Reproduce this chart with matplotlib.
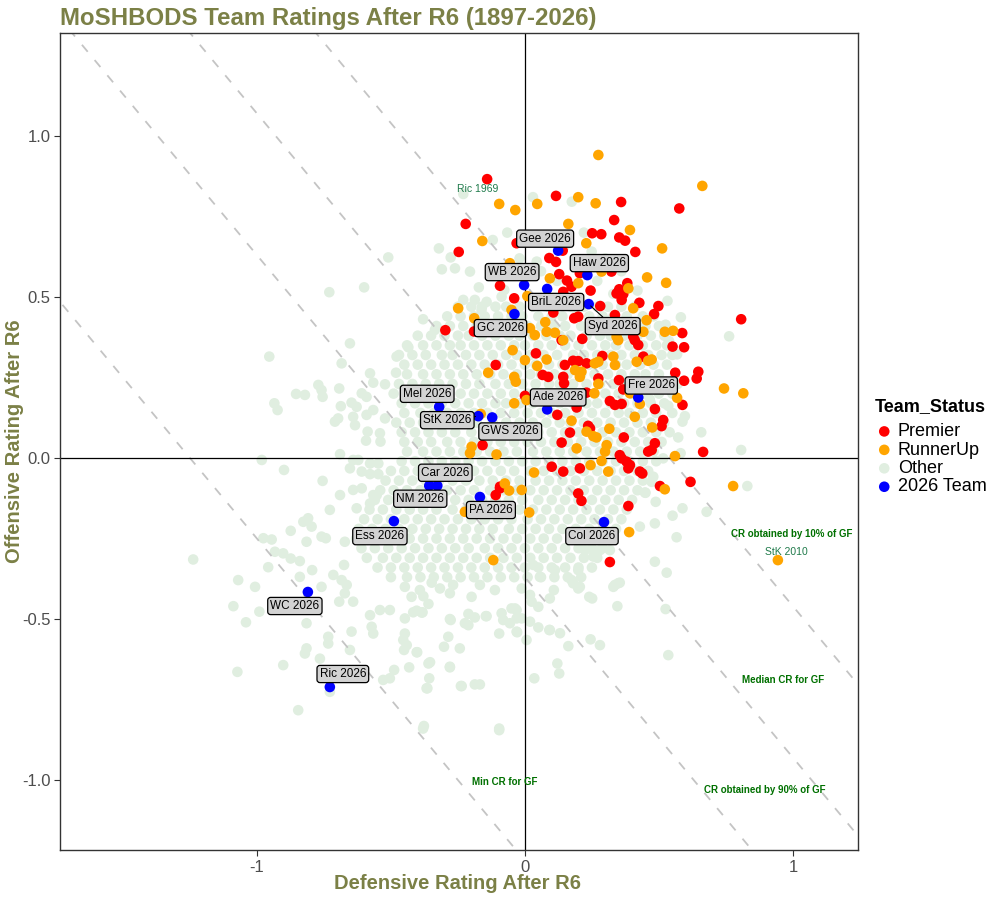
import matplotlib.pyplot as plt

plt.rcParams['font.family'] = ['Liberation Sans', 'DejaVu Sans']

# ---- 2026 teams (blue) ----
team_names = ['Gee 2026', 'WB 2026', 'Haw 2026', 'BriL 2026', 'Syd 2026', 'GC 2026',
              'Fre 2026', 'Ade 2026', 'Mel 2026', 'StK 2026', 'GWS 2026', 'Car 2026',
              'NM 2026', 'PA 2026', 'Ess 2026', 'Col 2026', 'WC 2026', 'Ric 2026']
team_def = [0.124, -0.003, 0.233, 0.083, 0.238, -0.039, 0.423, 0.083, -0.320, -0.174,
            -0.122, -0.327, -0.357, -0.168, -0.489, 0.295, -0.810, -0.728]
team_off = [0.644, 0.537, 0.568, 0.525, 0.478, 0.447, 0.188, 0.151, 0.159, 0.130,
            0.126, -0.086, -0.086, -0.121, -0.196, -0.199, -0.416, -0.711]
# label offsets in pixels (dx, dy) as placed by the label repeller
label_shift = [(-13, 12), (-12, 13), (12, 12), (9, -13), (24, -22), (-14, -14),
               (13, 12), (11, 12), (-12, 13), (-31, -4), (18, -14), (8, 13),
               (-9, -13), (11, -13), (-14, -15), (-12, -14), (-13, -14), (13, 13)]

# ---- Premiers (red) ----
prem_def = [-0.141, 0.116, 0.359, 0.576, -0.221, 0.333, 0.251, 0.285, 0.352, 0.374,
            0.412, -0.247, -0.031, 0.141, 0.091, 0.116, 0.128, 0.157, 0.174, 0.143,
            0.205, 0.245, 0.323, 0.352, 0.367, 0.342, 0.361, 0.382, 0.427, 0.498,
            0.482, 0.281, -0.093, -0.040, 0.106, 0.184, 0.199, 0.336, -0.297, -0.190,
            0.587, 0.404, -0.109, 0.041, 0.137, 0.214, 0.149, 0.180, 0.199, 0.230,
            0.289, 0.410, 0.423, 0.551, 0.594, 0.442, 0.066, 0.087, 0.143, 0.146,
            0.274, 0.351, 0.561, 0.647, 0.641, 0.594, 0.367, 0.000, 0.230, 0.317,
            0.336, 0.361, 0.193, 0.485, 0.588, 0.121, 0.516, 0.510, 0.236, 0.243,
            0.168, 0.369, 0.137, -0.158, 0.485, 0.473, 0.460, 0.665, 0.354, 0.361,
            0.379, 0.392, 0.386, 0.205, 0.100, 0.143, 0.429, 0.618, 0.504, -0.093,
            0.807, 0.438, -0.093, -0.109, 0.199, 0.211, 0.386, 0.317]
prem_off = [0.866, 0.814, 0.795, 0.775, 0.727, 0.739, 0.698, 0.695, 0.685, 0.675,
            0.640, 0.640, 0.667, 0.644, 0.621, 0.609, 0.571, 0.551, 0.532, 0.516,
            0.574, 0.520, 0.579, 0.524, 0.509, 0.511, 0.491, 0.543, 0.482, 0.472,
            0.447, 0.472, 0.535, 0.496, 0.452, 0.434, 0.439, 0.444, 0.397, 0.393,
            0.388, 0.377, 0.289, 0.325, 0.366, 0.370, 0.289, 0.302, 0.301, 0.294,
            0.317, 0.366, 0.351, 0.346, 0.344, 0.315, 0.258, 0.252, 0.252, 0.232,
            0.247, 0.242, 0.265, 0.268, 0.247, 0.240, 0.213, 0.193, 0.203, 0.177,
            0.165, 0.168, 0.157, 0.152, 0.165, 0.134, 0.118, 0.099, 0.100, 0.092,
            0.079, 0.064, 0.048, 0.040, 0.046, 0.025, 0.020, 0.019, 0.009, -0.001,
            -0.011, -0.022, -0.032, -0.032, -0.027, -0.042, -0.042, -0.074, -0.087, -0.089,
            0.431, -0.048, -0.094, -0.115, -0.110, -0.133, -0.149, -0.323]

# ---- Runners-up (orange) ----
ru_def = [0.274, 0.662, -0.096, -0.036, 0.046, 0.199, 0.264, 0.162, 0.392, -0.159,
          0.229, 0.512, -0.056, 0.093, 0.199, 0.286, 0.456, 0.527, 0.386, 0.009,
          -0.249, 0.404, -0.189, -0.050, 0.076, 0.454, 0.019, 0.081, 0.112, 0.522,
          0.553, 0.037, 0.442, -0.046, 0.000, 0.081, 0.046, 0.143, 0.187, 0.211,
          0.205, 0.261, 0.274, 0.330, 0.336, 0.417, 0.460, 0.473, 0.342, 0.348,
          -0.137, -0.040, -0.034, 0.274, 0.259, 0.743, 0.815, 0.392, 0.568, 0.429,
          -0.040, 0.006, 0.174, 0.410, 0.475, 0.315, 0.230, 0.255, 0.267, 0.305,
          0.299, 0.193, -0.199, -0.205, -0.106, -0.165, 0.560, 0.286, 0.245, 0.311,
          0.034, -0.075, 0.777, -0.059, -0.012, -0.224, 0.016, 0.522, 0.389, -0.118,
          0.944]
ru_off = [0.941, 0.845, 0.789, 0.770, 0.789, 0.810, 0.791, 0.727, 0.708, 0.674,
          0.667, 0.651, 0.605, 0.558, 0.543, 0.579, 0.561, 0.544, 0.527, 0.503,
          0.465, 0.465, 0.434, 0.460, 0.422, 0.428, 0.403, 0.392, 0.389, 0.392,
          0.395, 0.382, 0.392, 0.335, 0.304, 0.306, 0.286, 0.366, 0.273, 0.268,
          0.252, 0.294, 0.299, 0.315, 0.289, 0.299, 0.302, 0.306, 0.377, 0.366,
          0.265, 0.252, 0.237, 0.230, 0.201, 0.216, 0.201, 0.201, 0.187, 0.168,
          0.170, 0.180, 0.116, 0.128, 0.095, 0.091, 0.082, 0.068, 0.064, 0.040,
          0.020, 0.030, 0.035, 0.015, 0.011, 0.137, 0.006, -0.009, -0.022, -0.042,
          -0.045, -0.079, -0.087, -0.101, -0.099, -0.167, -0.169, -0.097, -0.230, -0.317,
          -0.317]

# ---- Other teams (light green): dense core read row by row ----
other_row_y = [0.47, 0.44, 0.41, 0.38, 0.35, 0.32, 0.29, 0.26, 0.23, 0.20,
               0.17, 0.14, 0.11, 0.08, 0.05, 0.02, -0.01, -0.04, -0.07, -0.10,
               -0.13, -0.16, -0.19, -0.22, -0.25, -0.28, -0.31, -0.34, -0.37]
other_row_x = [
    [-0.25, -0.20, -0.16, -0.11, -0.07, -0.02, 0.03, 0.08, 0.12, 0.17, 0.22, 0.27, 0.31, 0.36, 0.41],
    [-0.29, -0.24, -0.19, -0.15, -0.10, -0.05, -0.01, 0.05, 0.10, 0.14, 0.19, 0.24, 0.29, 0.33, 0.38, 0.44, 0.48],
    [-0.33, -0.28, -0.23, -0.18, -0.13, -0.09, -0.04, 0.01, 0.06, 0.11, 0.15, 0.21, 0.26, 0.30, 0.35, 0.40, 0.45, 0.50],
    [-0.40, -0.35, -0.30, -0.25, -0.21, -0.16, -0.11, -0.06, -0.02, 0.03, 0.08, 0.13, 0.17, 0.23, 0.28, 0.32, 0.37, 0.42, 0.47, 0.52],
    [-0.44, -0.38, -0.33, -0.28, -0.24, -0.19, -0.14, -0.09, -0.04, 0.00, 0.05, 0.10, 0.15, 0.20, 0.25, 0.30, 0.34, 0.39, 0.44, 0.49, 0.53],
    [-0.47, -0.42, -0.37, -0.31, -0.27, -0.22, -0.17, -0.12, -0.07, -0.03, 0.02, 0.07, 0.12, 0.18, 0.22, 0.27, 0.32, 0.36, 0.41, 0.46, 0.51, 0.55],
    [-0.45, -0.40, -0.35, -0.30, -0.25, -0.20, -0.15, -0.10, -0.05, 0.00, 0.04, 0.09, 0.14, 0.19, 0.24, 0.29, 0.34, 0.38, 0.43, 0.48, 0.53],
    [-0.44, -0.38, -0.33, -0.28, -0.23, -0.18, -0.13, -0.08, -0.03, 0.02, 0.06, 0.11, 0.16, 0.21, 0.26, 0.31, 0.36, 0.41, 0.45, 0.50, 0.56],
    [-0.47, -0.42, -0.37, -0.32, -0.27, -0.22, -0.17, -0.11, -0.06, -0.01, 0.04, 0.09, 0.13, 0.18, 0.23, 0.28, 0.33, 0.38, 0.43, 0.48, 0.52, 0.57],
    [-0.49, -0.44, -0.39, -0.34, -0.29, -0.24, -0.19, -0.14, -0.09, -0.04, 0.01, 0.06, 0.11, 0.16, 0.21, 0.26, 0.30, 0.35, 0.40, 0.45, 0.50, 0.55],
    [-0.46, -0.41, -0.36, -0.31, -0.26, -0.21, -0.16, -0.11, -0.07, -0.02, 0.03, 0.08, 0.13, 0.18, 0.23, 0.27, 0.32, 0.37, 0.42, 0.47, 0.52],
    [-0.45, -0.39, -0.34, -0.29, -0.24, -0.19, -0.14, -0.09, -0.04, 0.01, 0.06, 0.10, 0.15, 0.20, 0.25, 0.30, 0.35, 0.39, 0.44, 0.49, 0.55],
    [-0.48, -0.43, -0.38, -0.33, -0.28, -0.23, -0.18, -0.12, -0.07, -0.02, 0.03, 0.08, 0.13, 0.17, 0.22, 0.27, 0.32, 0.37, 0.42, 0.47, 0.52],
    [-0.46, -0.41, -0.36, -0.31, -0.26, -0.20, -0.15, -0.10, -0.05, 0.00, 0.05, 0.10, 0.15, 0.20, 0.24, 0.29, 0.34, 0.39, 0.44, 0.49, 0.54],
    [-0.45, -0.40, -0.35, -0.29, -0.24, -0.19, -0.14, -0.09, -0.04, 0.01, 0.06, 0.11, 0.16, 0.21, 0.26, 0.31, 0.36, 0.41, 0.46, 0.51],
    [-0.44, -0.38, -0.33, -0.28, -0.23, -0.18, -0.13, -0.08, -0.03, 0.03, 0.08, 0.13, 0.18, 0.23, 0.28, 0.33, 0.38, 0.43, 0.48],
    [-0.46, -0.41, -0.36, -0.31, -0.26, -0.21, -0.16, -0.11, -0.06, -0.01, 0.04, 0.09, 0.14, 0.19, 0.24, 0.29, 0.34, 0.39, 0.44, 0.49],
    [-0.50, -0.45, -0.40, -0.34, -0.29, -0.24, -0.19, -0.14, -0.09, -0.04, 0.02, 0.07, 0.12, 0.17, 0.22, 0.27, 0.32, 0.37, 0.42, 0.46],
    [-0.52, -0.47, -0.42, -0.37, -0.32, -0.27, -0.22, -0.17, -0.12, -0.07, -0.02, 0.04, 0.09, 0.14, 0.19, 0.24, 0.29, 0.34, 0.39, 0.44],
    [-0.54, -0.49, -0.44, -0.39, -0.34, -0.29, -0.24, -0.19, -0.13, -0.08, -0.03, 0.02, 0.07, 0.12, 0.17, 0.22, 0.27, 0.32, 0.37, 0.42],
    [-0.56, -0.51, -0.46, -0.41, -0.36, -0.31, -0.26, -0.21, -0.16, -0.11, -0.06, -0.01, 0.05, 0.10, 0.15, 0.20, 0.25, 0.30, 0.35, 0.40],
    [-0.58, -0.53, -0.48, -0.43, -0.38, -0.33, -0.27, -0.22, -0.17, -0.12, -0.07, -0.02, 0.03, 0.08, 0.13, 0.18, 0.23, 0.28, 0.33, 0.38],
    [-0.60, -0.55, -0.50, -0.45, -0.40, -0.35, -0.30, -0.25, -0.20, -0.15, -0.10, -0.05, 0.01, 0.06, 0.11, 0.16, 0.21, 0.26, 0.31, 0.36],
    [-0.62, -0.57, -0.52, -0.47, -0.42, -0.37, -0.32, -0.27, -0.22, -0.17, -0.12, -0.06, -0.01, 0.04, 0.09, 0.14, 0.19, 0.24, 0.29, 0.34],
    [-0.63, -0.58, -0.53, -0.48, -0.43, -0.38, -0.33, -0.28, -0.23, -0.18, -0.13, -0.08, -0.03, 0.02, 0.07, 0.12, 0.17, 0.22, 0.27, 0.31],
    [-0.61, -0.56, -0.51, -0.46, -0.41, -0.36, -0.31, -0.26, -0.21, -0.15, -0.10, -0.05, 0.00, 0.05, 0.10, 0.15, 0.20, 0.25, 0.29],
    [-0.59, -0.53, -0.48, -0.43, -0.38, -0.33, -0.28, -0.23, -0.18, -0.13, -0.08, -0.03, 0.02, 0.07, 0.12, 0.17, 0.22, 0.27],
    [-0.55, -0.50, -0.45, -0.40, -0.35, -0.30, -0.25, -0.20, -0.15, -0.10, -0.05, 0.00, 0.05, 0.10, 0.15, 0.20, 0.25],
    [-0.50, -0.44, -0.39, -0.34, -0.29, -0.24, -0.19, -0.14, -0.09, -0.04, 0.01, 0.06, 0.11, 0.16, 0.21],
]

# ---- Other teams: scattered points outside the core ----
other_sparse = [
    (-0.23, 0.82), (0.03, 0.81), (0.175, 0.796), (-0.066, 0.70), (-0.12, 0.677),
    (-0.321, 0.651), (-0.277, 0.623), (-0.310, 0.586), (-0.261, 0.589), (-0.205, 0.579),
    (-0.172, 0.530), (-0.23, 0.491), (-0.187, 0.491), (-0.143, 0.485), (-0.162, 0.46),
    (-0.087, 0.501), (-0.077, 0.522), (0.044, 0.61), (0.249, 0.641), (-0.51, 0.623),
    (-0.60, 0.53), (-0.73, 0.515), (-0.38, 0.431), (-0.336, 0.398), (-0.653, 0.356),
    (-0.954, 0.315), (-0.435, 0.344), (-0.479, 0.315), (-0.684, 0.294), (-0.578, 0.263),
    (-0.481, 0.265), (-0.566, 0.234), (-0.522, 0.229), (-0.771, 0.227), (-0.759, 0.211),
    (-0.693, 0.216), (-0.854, 0.199), (-0.821, 0.196), (-0.755, 0.19), (-0.609, 0.201),
    (-0.591, 0.19), (-0.935, 0.17), (-0.923, 0.149), (-0.647, 0.172), (-0.628, 0.159),
    (-0.687, 0.161), (-0.566, 0.149), (-0.591, 0.134), (-0.522, 0.123), (-0.697, 0.123),
    (-0.709, 0.113), (-0.641, 0.128), (-0.634, 0.102), (-0.587, 0.082), (-0.541, 0.077),
    (-0.539, 0.051), (-0.593, 0.054), (-0.69, 0.012), (-0.982, -0.006), (-0.899, -0.037),
    (-0.755, -0.071), (-0.641, -0.006), (-0.622, -0.006), (-0.653, -0.032), (-0.609, -0.042),
    (-0.578, -0.017), (-0.547, -0.017), (-0.578, -0.05), (-0.547, -0.05), (-0.69, -0.115),
    (-0.641, -0.099), (-0.609, -0.094), (-0.566, -0.115),
    (0.0, 0.56), (0.06, 0.58), (0.12, 0.55), (0.20, 0.60), (0.30, 0.62), (0.36, 0.58),
    (0.42, 0.52), (0.15, 0.66), (0.22, 0.70), (-0.02, 0.62), (0.33, 0.51), (0.27, 0.55),
    (0.532, 0.488), (0.582, 0.437), (0.525, 0.414), (0.762, 0.378), (0.538, 0.363),
    (0.568, 0.322), (0.466, 0.182), (0.535, 0.162), (0.597, 0.13), (0.588, 0.113),
    (0.658, 0.08), (0.572, 0.064), (0.807, 0.025), (0.581, 0.015), (0.516, -0.001),
    (0.479, -0.058), (0.473, -0.074), (0.83, -0.087), (0.448, -0.107), (0.678, -0.167),
    (0.588, -0.156), (0.551, -0.179), (0.566, -0.246), (0.485, -0.203), (0.485, -0.322),
    (0.529, -0.356), (0.45, -0.108), (0.488, -0.136), (0.429, -0.213), (0.336, -0.394),
    (0.348, -0.389), (0.345, -0.46), (0.525, -0.469), (0.535, -0.612), (0.245, -0.563),
    (0.28, -0.581), (0.162, -0.584), (0.121, -0.638), (0.128, -0.669), (0.035, -0.684),
    (0.24, -0.431), (0.093, -0.534), (0.131, -0.544), (-0.031, -0.472), (0.056, -0.369),
    (0.031, -0.332), (0.174, -0.379), (0.199, -0.348), (0.112, -0.348), (0.205, -0.40),
    (0.255, -0.306), (0.28, -0.286), (0.317, -0.286), (0.224, -0.286),
    (-0.728, -0.161), (-0.628, -0.156), (-0.578, -0.141), (-0.553, -0.115), (-0.827, -0.198),
    (-0.809, -0.187), (-0.796, -0.213), (-0.874, -0.226), (-0.976, -0.249), (-0.945, -0.253),
    (-0.815, -0.26), (-0.759, -0.244), (-0.743, -0.249), (-0.672, -0.26), (-1.238, -0.315),
    (-0.933, -0.291), (-0.902, -0.296), (-0.874, -0.312), (-0.84, -0.32), (-0.958, -0.339),
    (-0.794, -0.348), (-0.84, -0.369), (-0.715, -0.363), (-0.684, -0.379), (-0.665, -0.394),
    (-0.675, -0.332), (-1.07, -0.379), (-1.007, -0.40), (-0.759, -0.40), (-1.088, -0.46),
    (-0.991, -0.477), (-1.041, -0.51), (-0.815, -0.513), (-0.693, -0.446), (-0.641, -0.446),
    (-0.672, -0.42), (-0.734, -0.555), (-0.734, -0.576), (-0.815, -0.591), (-0.821, -0.607),
    (-0.902, -0.643), (-1.073, -0.664), (-0.765, -0.623), (-0.653, -0.596), (-0.647, -0.539),
    (-0.578, -0.488), (-0.541, -0.472), (-0.504, -0.472), (-0.572, -0.524), (-0.566, -0.545),
    (-0.846, -0.783), (-0.728, -0.726), (-0.529, -0.689), (-0.504, -0.684), (-0.488, -0.658),
    (-0.432, -0.65), (-0.36, -0.638), (-0.367, -0.715), (-0.236, -0.708), (-0.187, -0.703),
    (-0.168, -0.703), (-0.28, -0.648), (-0.404, -0.603), (-0.448, -0.545), (-0.454, -0.565),
    (-0.441, -0.581), (-0.286, -0.555), (-0.302, -0.586), (-0.243, -0.591), (-0.096, -0.545),
    (-0.031, -0.539), (-0.38, -0.84), (-0.096, -0.84), (-0.448, -0.498), (-0.404, -0.474),
    (-0.385, -0.48), (-0.28, -0.50), (-0.224, -0.513), (-0.143, -0.491), (-0.211, -0.484),
    (-0.087, -0.482), (-0.05, -0.467), (-0.031, -0.498), (0.006, -0.565),
    (-0.448, -0.40), (-0.423, -0.431), (-0.392, -0.41), (-0.379, -0.429), (-0.348, -0.387),
    (-0.317, -0.405), (-0.28, -0.42), (-0.268, -0.394), (-0.168, -0.394), (-0.112, -0.41),
    (-0.199, -0.431), (-0.012, -0.405), (0.019, -0.425), (0.025, -0.446), (0.05, -0.462),
    (0.093, -0.436), (0.108, -0.41), (0.18, -0.389), (0.199, -0.405), (0.251, -0.436),
    (0.33, -0.40), (0.354, -0.387), (-0.417, -0.479), (-0.382, -0.479), (-0.36, -0.453),
    (-0.277, -0.503), (-0.211, -0.519), (-0.187, -0.495), (-0.146, -0.491), (-0.081, -0.503),
    (-0.056, -0.513), (-0.037, -0.467), (-0.012, -0.498), (0.019, -0.508), (-0.029, -0.541),
    (0.05, -0.526), (0.091, -0.534), (-0.451, -0.596), (-0.402, -0.603), (-0.354, -0.634),
    (-0.28, -0.65), (-0.357, -0.684), (-0.364, -0.715), (-0.239, -0.708), (-0.377, -0.832),
    (-0.096, -0.845),
]

# Grand-final combined-rating reference lines: Def + Off = constant
cr_levels = [-1.25, -0.37, 0.07, 0.54]
cr_labels = ['Min CR for GF', 'CR obtained by 90% of GF', 'Median CR for GF',
             'CR obtained by 10% of GF']
cr_label_pos = [(-0.075, -1.006), (0.896, -1.031), (0.963, -0.689), (0.996, -0.236)]

other_x = [x for row in other_row_x for x in row] + [p[0] for p in other_sparse]
other_y = [y for y, row in zip(other_row_y, other_row_x) for _ in row] + [p[1] for p in other_sparse]

olive = '#7b8046'
xlim = (-1.735, 1.243)
ylim = (-1.217, 1.32)
dot = 58

fig = plt.figure(figsize=(10, 9), dpi=100)
ax = fig.add_axes([0.06, 0.0556, 0.798, 0.9078])

ax.scatter(other_x, other_y, s=dot, color='#e0eee0', edgecolors='none', zorder=1, label='Other')

for c in cr_levels:
    ax.plot([xlim[0] - 1, xlim[1] + 1], [c - xlim[0] + 1, c - xlim[1] - 1],
            color='#c4c4c4', lw=1.3, ls=(0, (5, 6)), zorder=2)
ax.axvline(0, color='black', lw=0.9, zorder=2.5)
ax.axhline(0, color='black', lw=0.9, zorder=2.5)

ax.scatter(prem_def, prem_off, s=dot, color='#ff0000', edgecolors='none', zorder=3, label='Premier')
ax.scatter(ru_def, ru_off, s=dot, color='#ffa500', edgecolors='none', zorder=3, label='RunnerUp')
ax.scatter(team_def, team_off, s=dot, color='#0000ff', edgecolors='none', zorder=4, label='2026 Team')

for name, x, y, (dx, dy) in zip(team_names, team_def, team_off, label_shift):
    arrow = None
    if abs(dx) > 20 or abs(dy) > 20:
        arrow = dict(arrowstyle='-', color='black', lw=0.8, shrinkA=0, shrinkB=2)
    ax.annotate(name, (x, y), xytext=(dx, dy), textcoords='offset pixels',
                ha='center', va='center', fontsize=8.5, zorder=6, arrowprops=arrow,
                bbox=dict(boxstyle='round,pad=0.22,rounding_size=0.25', fc='#d3d3d3',
                          ec='black', lw=0.9))

ax.text(-0.177, 0.836, 'Ric 1969', color='#1f7a4a', fontsize=7.5, ha='center', va='center', zorder=6)
ax.text(0.975, -0.292, 'StK 2010', color='#1f7a4a', fontsize=7.5, ha='center', va='center', zorder=6)

for txt, (x, y) in zip(cr_labels, cr_label_pos):
    ax.text(x, y, txt, color='#007000', fontsize=7, fontweight='bold', ha='center', va='center', zorder=6)

ax.set_xlim(xlim)
ax.set_ylim(ylim)
ax.set_xticks([-1, 0, 1])
ax.set_xticklabels(['-1', '0', '1'])
ax.set_yticks([-1.0, -0.5, 0.0, 0.5, 1.0])
ax.set_yticklabels(['-1.0', '-0.5', '0.0', '0.5', '1.0'])
ax.tick_params(labelsize=12, labelcolor='#4d4d4d', color='#333333', length=4, width=0.8, pad=3)
for sp in ax.spines.values():
    sp.set_color('#333333')
    sp.set_linewidth(1.0)

ax.set_xlabel('Defensive Rating After R6', fontsize=14.5, fontweight='bold', color=olive)
ax.set_ylabel('Offensive Rating After R6', fontsize=14.5, fontweight='bold', color=olive)
ax.xaxis.set_label_coords(0.4987, -0.030)
ax.yaxis.set_label_coords(-0.045, 0.5)
fig.text(0.06, 0.980, 'MoSHBODS Team Ratings After R6 (1897-2026)', fontsize=17.3, fontweight='bold',
         color=olive, ha='left', va='center')

h, l = ax.get_legend_handles_labels()
order = [l.index(k) for k in ['Premier', 'RunnerUp', 'Other', '2026 Team']]
leg = fig.legend([h[i] for i in order], [l[i] for i in order], title='Team_Status',
                 loc='upper left', bbox_to_anchor=(0.868, 0.566), frameon=False,
                 fontsize=13, title_fontproperties={'weight': 'bold', 'size': 13},
                 handletextpad=0.25, labelspacing=0.08, handlelength=1.0, borderaxespad=0)
leg._legend_box.align = 'left'
leg._legend_box.sep = 6

fig.savefig('out.png', dpi=100)
